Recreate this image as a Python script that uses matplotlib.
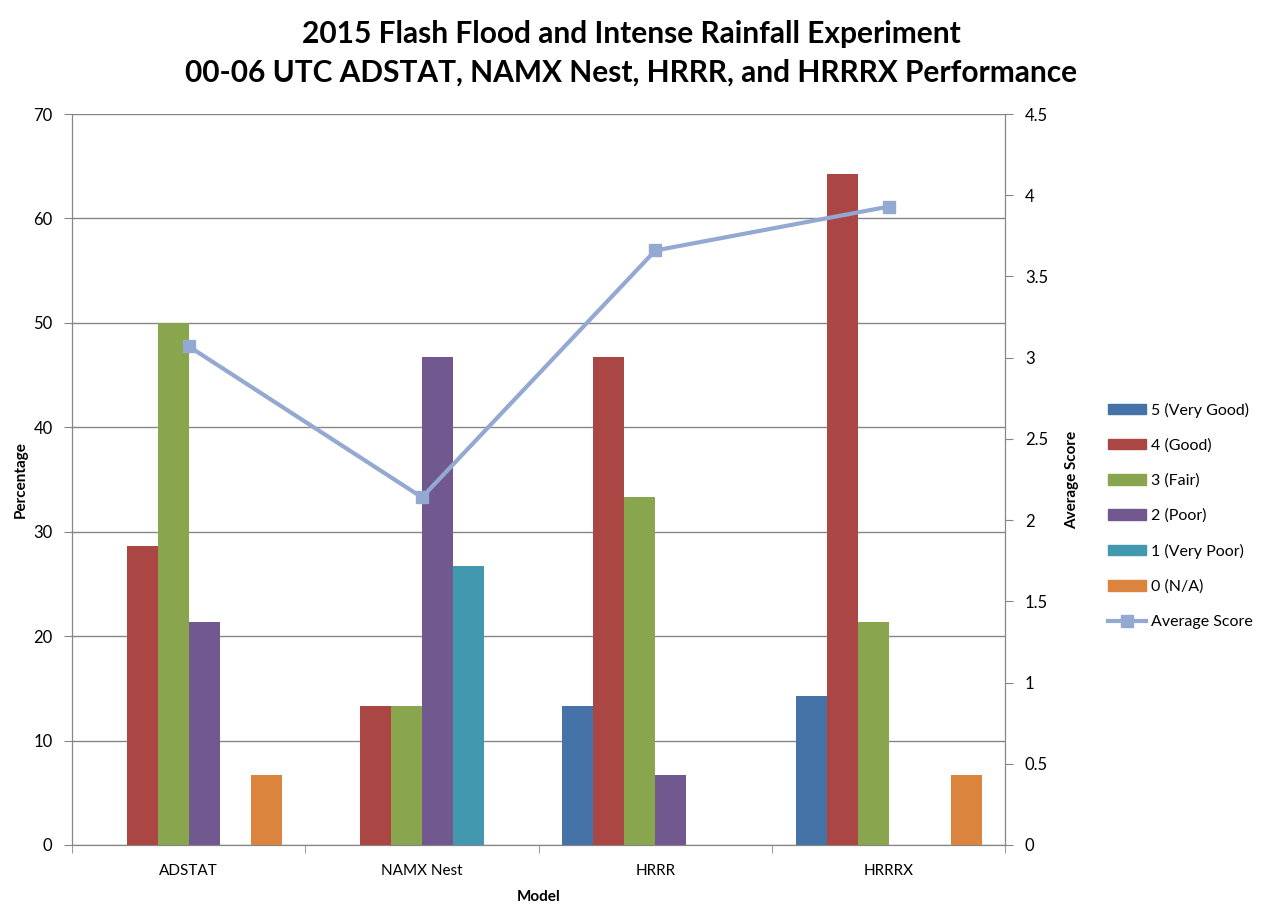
import matplotlib.pyplot as plt
import numpy as np
from matplotlib.patches import Patch
from matplotlib.lines import Line2D

plt.rcParams['font.family'] = ['Lato', 'DejaVu Sans']

models = ['ADSTAT', 'NAMX Nest', 'HRRR', 'HRRRX']
score_labels = ['5 (Very Good)', '4 (Good)', '3 (Fair)', '2 (Poor)', '1 (Very Poor)', '0 (N/A)']
pct_5 = [0, 0, 13.3, 14.3]
pct_4 = [28.6, 13.3, 46.7, 64.3]
pct_3 = [50.0, 13.3, 33.3, 21.4]
pct_2 = [21.4, 46.7, 6.7, 0]
pct_1 = [0, 26.7, 0, 0]
pct_0 = [6.7, 0, 0, 6.7]
avg_score = [3.07, 2.14, 3.66, 3.93]

colors = ['#4572A7', '#AA4643', '#89A54E', '#71588F', '#4198AF', '#DB843D']
line_color = '#94A9D1'

fig = plt.figure(figsize=(12.63, 9.05), dpi=100)
ax = fig.add_axes([0.057, 0.0663, 0.739, 0.8077])
ax2 = ax.twinx()

x = np.arange(len(models))
w = 0.133
series = [pct_5, pct_4, pct_3, pct_2, pct_1, pct_0]
for i, vals in enumerate(series):
    ax.bar(x + (i - 2.5) * w, vals, w, color=colors[i], zorder=3)

ax2.plot(x, avg_score, color=line_color, lw=3, marker='s', ms=9, zorder=4)

ax.set_xlim(-0.5, 3.5)
ax.set_ylim(0, 70)
ax.set_yticks(range(0, 71, 10))
ax2.set_ylim(0, 4.5)
ax2.set_yticks(np.arange(0, 4.6, 0.5))
ax2.set_yticklabels(['0', '0.5', '1', '1.5', '2', '2.5', '3', '3.5', '4', '4.5'])

ax.set_xticks(x)
ax.set_xticklabels(models, fontsize=11)
ax.set_xticks(np.arange(-0.5, 4, 1), minor=True)
ax.tick_params(axis='x', which='major', length=0, pad=14)
ax.tick_params(axis='x', which='minor', length=6, color='#868686')
ax.tick_params(axis='y', labelsize=12, length=6, color='#868686', pad=8)
ax2.tick_params(axis='y', labelsize=12, length=6, color='#868686', pad=8)

ax.grid(axis='y', color='#868686', lw=1, zorder=0)
for a in (ax, ax2):
    a.spines['top'].set_visible(False)
    for s in ('left', 'right', 'bottom'):
        a.spines[s].set_color('#868686')

ax.set_ylabel('Percentage', fontsize=11, fontweight='bold', labelpad=4)
ax2.set_ylabel('Average Score', fontsize=11, fontweight='bold', labelpad=12)
ax.set_xlabel('Model', fontsize=11, fontweight='bold', labelpad=8)

fig.suptitle('2015 Flash Flood and Intense Rainfall Experiment\n00-06 UTC ADSTAT, NAMX Nest, HRRR, and HRRRX Performance',
             fontsize=21.5, fontweight='bold', y=0.978, linespacing=1.45)

handles = [Patch(color=c) for c in colors]
handles.append(Line2D([0], [0], color=line_color, lw=3, marker='s', ms=9))
fig.legend(handles, score_labels + ['Average Score'], loc='center left',
           bbox_to_anchor=(0.866, 0.43), frameon=False, fontsize=11.5,
           handlelength=2.4, handleheight=0.6, labelspacing=1.3, handletextpad=0.3)

fig.savefig('out.png', dpi=100)
